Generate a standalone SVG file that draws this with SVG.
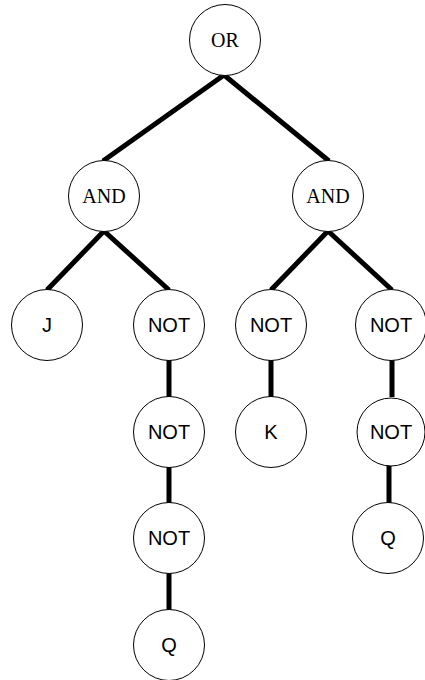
<svg xmlns="http://www.w3.org/2000/svg" width="425" height="680" viewBox="0 0 425 680">
<style>
.n circle{fill:#fff;stroke:#000;stroke-width:1}
.n text{font-size:20px;text-anchor:middle;fill:#000}
.serif{font-family:"Liberation Serif","Times New Roman",serif}
.sans{font-family:"Liberation Sans",Arial,sans-serif}
.e line{stroke:#000;stroke-width:5}
</style>
<rect width="425" height="680" fill="#fff"/>
<g id="connectors" class="e">
<line x1="224" y1="75" x2="103" y2="161"/>
<line x1="224" y1="75" x2="329" y2="161"/>
<line x1="104" y1="231" x2="47" y2="290"/>
<line x1="104" y1="231" x2="169" y2="290"/>
<line x1="328" y1="231" x2="271" y2="290"/>
<line x1="328" y1="231" x2="392" y2="290"/>
<line x1="169" y1="359" x2="169" y2="397"/>
<line x1="169" y1="466" x2="169" y2="503"/>
<line x1="169" y1="573" x2="169" y2="610"/>
<line x1="271" y1="359" x2="271" y2="397"/>
<line x1="392" y1="359" x2="392" y2="397"/>
<line x1="389" y1="465" x2="389" y2="504"/>
</g>
<g id="or" class="n"><circle cx="225" cy="40" r="35.5"/><text class="serif" x="225" y="47">OR</text></g>
<g id="and1" class="n"><circle cx="104" cy="196" r="35.5"/><text class="serif" x="104" y="203">AND</text></g>
<g id="and2" class="n"><circle cx="328" cy="196" r="35.5"/><text class="serif" x="328" y="203">AND</text></g>
<g id="j" class="n"><circle cx="47" cy="325" r="35.5"/><text class="sans" x="47" y="332">J</text></g>
<g id="not1" class="n"><circle cx="169" cy="325" r="35.5"/><text class="sans" x="169" y="332">NOT</text></g>
<g id="not2" class="n"><circle cx="169" cy="432" r="35.5"/><text class="sans" x="169" y="439">NOT</text></g>
<g id="not3" class="n"><circle cx="169" cy="538" r="35.5"/><text class="sans" x="169" y="545">NOT</text></g>
<g id="q1" class="n"><circle cx="169" cy="645" r="35.5"/><text class="sans" x="169" y="652">Q</text></g>
<g id="not4" class="n"><circle cx="271" cy="325" r="35.5"/><text class="sans" x="271" y="332">NOT</text></g>
<g id="k" class="n"><circle cx="271" cy="432" r="35.5"/><text class="sans" x="271" y="439">K</text></g>
<g id="not5" class="n"><circle cx="391" cy="325" r="35.5"/><text class="sans" x="391" y="332">NOT</text></g>
<g id="not6" class="n"><circle cx="391" cy="432" r="34"/><text class="sans" x="391" y="439">NOT</text></g>
<g id="q2" class="n"><circle cx="388" cy="538" r="35.5"/><text class="sans" x="388" y="545">Q</text></g>
</svg>
